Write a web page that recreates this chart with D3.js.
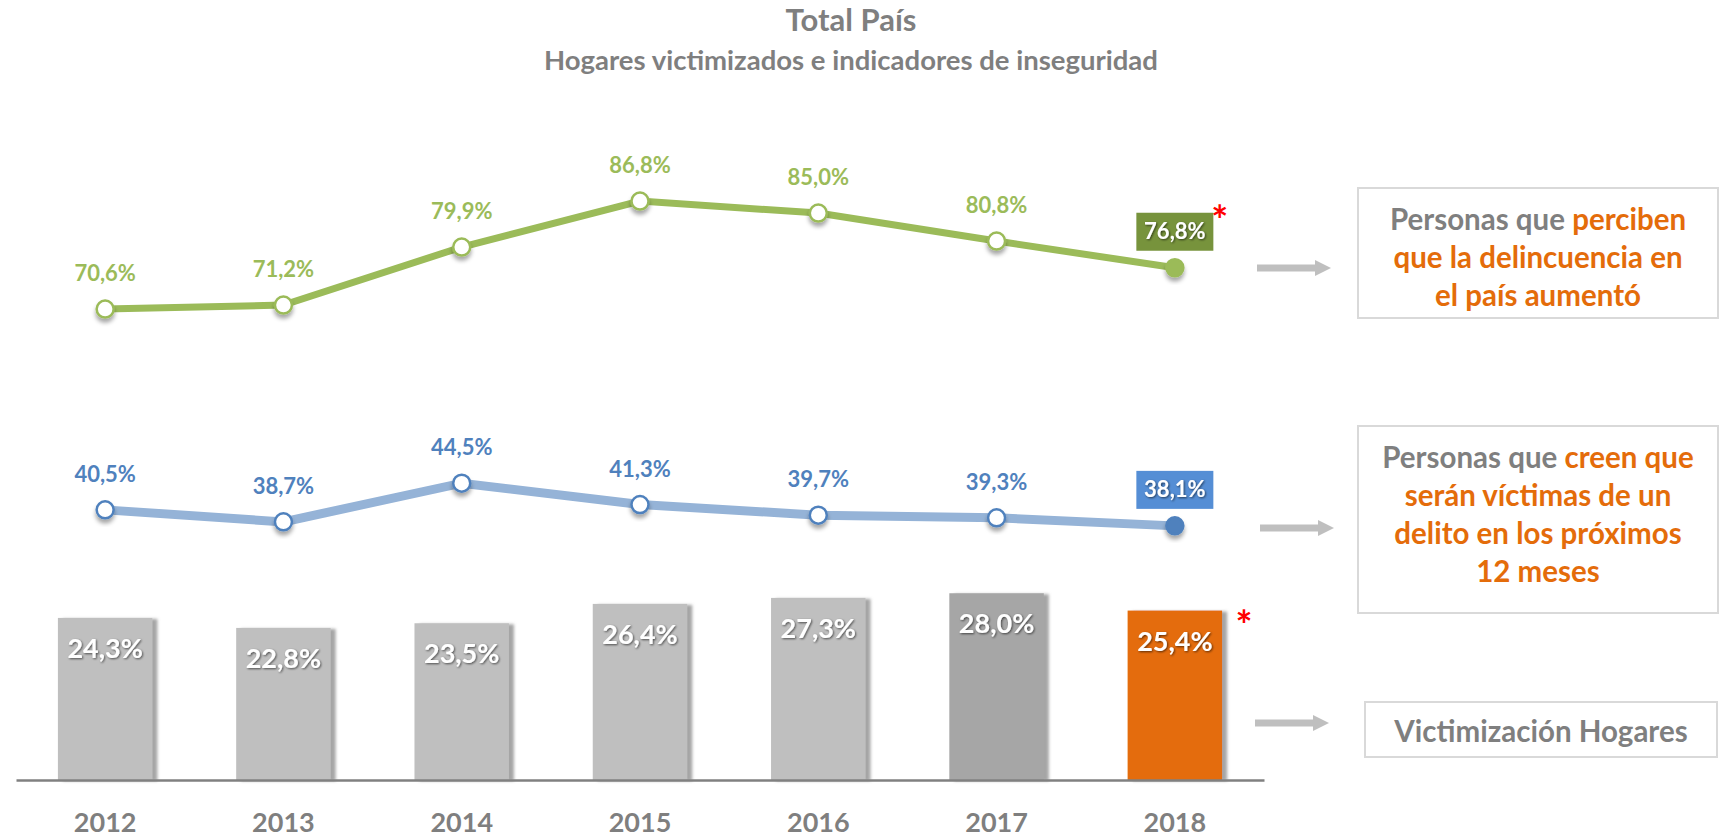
<!DOCTYPE html>
<html lang="es">
<head>
<meta charset="UTF-8">
<title>Total País</title>
<script src="https://d3js.org/d3.v7.min.js"></script>
<style>
  body { margin: 0; background: #fff; }
  svg { display: block; font-family: Lato, "Open Sans", sans-serif; font-weight: bold; }
</style>
</head>
<body>
<svg width="1719" height="837"></svg>
<script>
// datos
const years = ["2012", "2013", "2014", "2015", "2016", "2017", "2018"];
const perciben = [70.6, 71.2, 79.9, 86.8, 85.0, 80.8, 76.8];
const creen = [40.5, 38.7, 44.5, 41.3, 39.7, 39.3, 38.1];
const victimizacion = [24.3, 22.8, 23.5, 26.4, 27.3, 28.0, 25.4];
const barColors = ["#bfbfbf", "#bfbfbf", "#bfbfbf", "#bfbfbf", "#bfbfbf", "#a6a6a6", "#e46c0a"];

const GRAY = "#7f7f7f", ORANGE = "#e46c0a";
const fmt = v => d3.format(".1f")(v).replace(".", ",") + "%";

const svg = d3.select("svg");

// filtros (sombras)
const defs = svg.append("defs");
function shadow(id, dx, dy, sd, color, op) {
  defs.append("filter").attr("id", id)
    .attr("x", "-50%").attr("y", "-50%").attr("width", "200%").attr("height", "200%")
    .append("feDropShadow")
    .attr("dx", dx).attr("dy", dy).attr("stdDeviation", sd)
    .attr("flood-color", color).attr("flood-opacity", op);
}
shadow("barShadow", 5, 1, 1.5, "#7f7f7f", 0.7);
shadow("ptShadow", 0, 4, 2, "#000", 0.35);
shadow("txtShadow", 1, 1, 0.8, "#000", 0.6);

// escalas
const x = d3.scaleBand().domain(years).range([16, 1264])
  .paddingInner(0.47).paddingOuter(0.235);
const y = d3.scaleLinear().domain([0, 100]).range([780, 113]);
const cx = d => x(d) + x.bandwidth() / 2;

// títulos
svg.append("text").attr("x", 851).attr("y", 31).attr("text-anchor", "middle")
  .attr("fill", GRAY).style("font-size", "31px").text("Total País");
svg.append("text").attr("x", 851).attr("y", 70).attr("text-anchor", "middle")
  .attr("fill", GRAY).style("font-size", "27.5px")
  .text("Hogares victimizados e indicadores de inseguridad");

// barras
const barData = years.map((yr, i) => ({ year: yr, value: victimizacion[i], color: barColors[i] }));
svg.append("g").selectAll("rect").data(barData).join("rect")
  .attr("x", d => x(d.year))
  .attr("y", d => y(d.value))
  .attr("width", x.bandwidth())
  .attr("height", d => y(0) - y(d.value))
  .attr("fill", d => d.color)
  .attr("filter", "url(#barShadow)");

svg.append("g").selectAll("text").data(barData).join("text")
  .attr("x", d => cx(d.year))
  .attr("y", d => y(d.value) + 40)
  .attr("text-anchor", "middle")
  .attr("fill", "#fff")
  .attr("filter", "url(#txtShadow)")
  .style("font-size", "27px")
  .text(d => fmt(d.value));

// eje
svg.append("g").attr("transform", `translate(0,${y(0)})`)
  .call(d3.axisBottom(x).tickSize(0).tickPadding(33))
  .call(g => g.select(".domain").attr("stroke", "#808080").attr("stroke-width", 2.5))
  .call(g => g.selectAll("text").attr("fill", GRAY)
    .style("font-size", "27px").style("font-family", "Lato, sans-serif").style("font-weight", "bold"));

// líneas
function drawSeries(values, lineColor, ptColor, lineWidth, boxColor) {
  const data = years.map((yr, i) => ({ year: yr, value: values[i] }));
  const last = data[data.length - 1];
  const g = svg.append("g");
  g.append("path").datum(data)
    .attr("fill", "none")
    .attr("stroke", lineColor)
    .attr("stroke-width", lineWidth)
    .attr("d", d3.line().x(d => cx(d.year)).y(d => y(d.value)));

  g.selectAll("circle").data(data).join("circle")
    .attr("cx", d => cx(d.year))
    .attr("cy", d => y(d.value))
    .attr("r", 8.5)
    .attr("fill", d => d === last ? ptColor : "#fff")
    .attr("stroke", ptColor)
    .attr("stroke-width", 2.5)
    .attr("filter", "url(#ptShadow)");

  g.selectAll("text.lbl").data(data.slice(0, -1)).join("text")
    .attr("class", "lbl")
    .attr("x", d => cx(d.year))
    .attr("y", d => y(d.value) - 28)
    .attr("text-anchor", "middle")
    .attr("fill", ptColor)
    .style("font-size", "22px")
    .text(d => fmt(d.value));

  // último valor en caja
  g.append("rect")
    .attr("x", cx(last.year) - 38.5)
    .attr("y", y(last.value) - 55)
    .attr("width", 77).attr("height", 38)
    .attr("fill", boxColor);
  g.append("text")
    .attr("x", cx(last.year))
    .attr("y", y(last.value) - 29)
    .attr("text-anchor", "middle")
    .attr("fill", "#fff")
    .attr("filter", "url(#txtShadow)")
    .style("font-size", "22px")
    .text(fmt(last.value));
  return last;
}

const lastP = drawSeries(perciben, "#9bbb59", "#9bbb59", 7, "#77933c");
drawSeries(creen, "#95b3d7", "#4f81bd", 9, "#558ed5");

// asteriscos
svg.append("text").attr("x", cx(lastP.year) + 45).attr("y", y(lastP.value) - 33)
  .attr("text-anchor", "middle").attr("fill", "#ff0000").style("font-size", "40px").text("*");
const lastYear = years[years.length - 1];
svg.append("text").attr("x", x(lastYear) + x.bandwidth() + 22)
  .attr("y", y(victimizacion[victimizacion.length - 1]) + 29)
  .attr("text-anchor", "middle").attr("fill", "#ff0000").style("font-size", "40px").text("*");

// cuadros a la derecha
const boxes = [
  { x: 1358, y: 188, w: 360, h: 130, arrowX: 1257, arrowY: 268, lineH: 38, firstY: 230,
    lines: [[["Personas que ", GRAY], ["perciben", ORANGE]],
            [["que la delincuencia en", ORANGE]],
            [["el país aumentó", ORANGE]]] },
  { x: 1358, y: 426, w: 360, h: 187, arrowX: 1260, arrowY: 528, lineH: 38, firstY: 468,
    lines: [[["Personas que ", GRAY], ["creen que", ORANGE]],
            [["serán víctimas de un", ORANGE]],
            [["delito en los próximos", ORANGE]],
            [["12 meses", ORANGE]]] },
  { x: 1365, y: 702, w: 352, h: 55, arrowX: 1255, arrowY: 723, lineH: 38, firstY: 742,
    lines: [[["Victimización Hogares", GRAY]]] }
];

boxes.forEach(b => {
  svg.append("rect")
    .attr("x", b.x).attr("y", b.y).attr("width", b.w).attr("height", b.h)
    .attr("fill", "#fff").attr("stroke", "#d9d9d9").attr("stroke-width", 2);
  b.lines.forEach((segs, i) => {
    const t = svg.append("text")
      .attr("x", b.x + b.w / 2)
      .attr("y", b.firstY + i * b.lineH)
      .attr("text-anchor", "middle")
      .style("font-size", "29.5px");
    segs.forEach(s => t.append("tspan").attr("fill", s[1]).text(s[0]));
  });
  // flecha
  const ax = b.arrowX, ay = b.arrowY;
  svg.append("path")
    .attr("d", `M${ax},${ay - 3.5}H${ax + 58}V${ay - 8}L${ax + 74},${ay}L${ax + 58},${ay + 8}V${ay + 3.5}H${ax}Z`)
    .attr("fill", "#bfbfbf");
});
</script>
</body>
</html>
